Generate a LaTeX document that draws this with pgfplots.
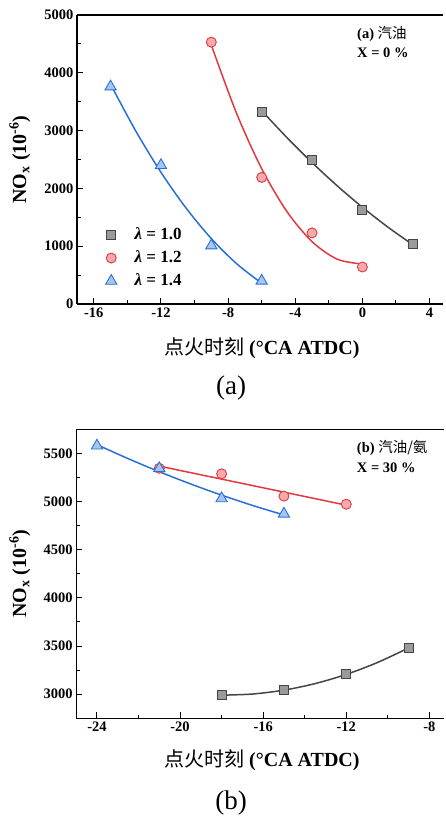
\documentclass[border=0pt]{standalone}
\usepackage{pgfplots}
\pgfplotsset{compat=1.18}
\usepackage{fontspec}
\setmainfont{Liberation Serif}
\newfontfamily\cjk{Noto Sans CJK SC}
\definecolor{grayedge}{HTML}{454545}
\definecolor{grayfill}{HTML}{9A9A9A}
\definecolor{redline}{HTML}{E0393F}
\definecolor{redfill}{HTML}{F5AAAE}
\definecolor{blueline}{HTML}{2A6FD6}
\definecolor{bluefill}{HTML}{A6C6F0}
\pgfplotsset{
 myax/.style={
  scale only axis, anchor=south west,
  axis x line*=box, axis y line*=left,
  xtick pos=lower, ytick pos=lower,
  tick align=inside,
  major tick length=6pt, minor tick length=3.5pt,
  minor x tick num=1, minor y tick num=1,
  every tick/.style={line width=1pt, black},
  axis line style={line width=1.2pt, black},
  tick label style={font=\fontsize{14.5}{16}\selectfont\bfseries},
  /pgf/number format/assume math mode=true,
  /pgf/number format/set thousands separator={},
  scaled ticks=false,
  label style={font=\fontsize{20}{22}\selectfont\bfseries},
  ylabel={NO\textsubscript{x} (10\textsuperscript{-6})},
  xlabel={{\cjk\mdseries 点火时刻} (°CA ATDC)},
  clip=false,
 },
 gfit/.style={no marks, smooth, line width=1.5pt, color=grayedge, forget plot},
 rfit/.style={no marks, smooth, line width=1.5pt, color=redline, forget plot},
 bfit/.style={no marks, smooth, line width=1.5pt, color=blueline, forget plot},
 gmark/.style={only marks, mark=square*, mark size=4.5pt, mark options={fill=grayfill, draw=grayedge, line width=0.9pt}},
 rmark/.style={only marks, mark=*, mark size=5pt, mark options={fill=redfill, draw=redline, line width=0.9pt}},
 bmark/.style={only marks, mark=triangle*, mark size=6.5pt, mark options={fill=bluefill, draw=blueline, line width=0.9pt}},
}
\begin{document}
\begin{tikzpicture}
\path[use as bounding box] (0pt,0pt) rectangle (445pt,818pt);
% ---------------- (a)
\begin{axis}[myax,
  at={(77pt,514pt)}, width=366pt, height=289pt,
  xmin=-17, xmax=4.8, ymin=0, ymax=5000,
  xtick={-16,-12,-8,-4,0,4}, ytick={0,1000,2000,3000,4000,5000},
  xlabel style={at={(axis description cs:0.505,-0.152)}, anchor=center},
  ylabel style={at={(axis description cs:-0.156,0.5)}, anchor=center},
  legend style={draw=none, fill=none, inner sep=0pt, at={(axis description cs:0.0697,0.159)}, anchor=west,
    font=\fontsize{17}{19}\selectfont\bfseries, row sep=3pt,
    nodes={inner sep=2pt, text height=12pt, text depth=4pt}},
  legend cell align=left,
  legend image code/.code={\draw[mark repeat=2,mark phase=2] plot coordinates {(0cm,0cm) (0.3cm,0cm) (0.6cm,0cm)}; \path[draw=none,fill=none] (0cm,0cm) -- (1.05cm,0cm);},
]
\addplot[gfit] coordinates {(-6,3344.5) (-4.5,2879.9) (-3,2446.5) (-1.5,2044.4) (0,1673.5) (1.5,1333.9) (3,1025.5)};
\addplot[rfit] coordinates {(-9,4479.5) (-7.5,3301.1) (-6,2341.5) (-4.5,1600.6) (-3,1078.5) (-1.5,775.1) (0,690.5)};
\addplot[bfit] coordinates {(-15,3800.5) (-13.5,2992.6) (-12,2278.5) (-10.5,1658.1) (-9,1131.5) (-7.5,698.6) (-6,359.5)};
\addplot[gmark] coordinates {(-6,3330) (-3,2490) (0,1630) (3,1040)};
\addplot[rmark] coordinates {(-9,4530) (-6,2190) (-3,1230) (0,640)};
\addplot[bmark] coordinates {(-15,3760) (-12,2400) (-9,1010) (-6,400)};
\legend{{\itshape λ} = 1.0, {\itshape λ} = 1.2, {\itshape λ} = 1.4}
\node[anchor=west, font=\fontsize{14.5}{16}\selectfont\bfseries, inner sep=0pt] at (axis description cs:0.765,0.934) {(a) {\cjk\mdseries 汽油}};
\node[anchor=west, font=\fontsize{14.5}{16}\selectfont\bfseries, inner sep=0pt] at (axis description cs:0.765,0.869) {X = 0 \%};
\end{axis}
\node[font=\fontsize{27}{30}\selectfont] at (231pt,430pt) {(a)};
% ---------------- (b)
\begin{axis}[myax,
  at={(76.2pt,99.7pt)}, width=367.7pt, height=289pt,
  xmin=-25, xmax=-7.3, ymin=2750, ymax=5750,
  xtick={-24,-20,-16,-12,-8}, ytick={3000,3500,4000,4500,5000,5500},
  xlabel style={at={(axis description cs:0.505,-0.145)}, anchor=center},
  ylabel style={at={(axis description cs:-0.153,0.5)}, anchor=center},
]
\addplot[gfit] coordinates {(-18,2989.9) (-16.5,3002.2) (-15,3042.3) (-13.5,3110.1) (-12,3205.7) (-10.5,3329) (-9,3480.1)};
\addplot[rfit] coordinates {(-21,5367.9) (-12,4962.6)};
\addplot[bfit] coordinates {(-24,5590.4) (-22.5,5445.4) (-21,5309.6) (-19.5,5183.3) (-18,5066.3) (-16.5,4958.8) (-15,4860.5)};
\addplot[gmark] coordinates {(-18,2990) (-15,3042) (-12,3206) (-9,3480)};
\addplot[rmark] coordinates {(-21,5345) (-18,5288) (-15,5056) (-12,4972)};
\addplot[bmark] coordinates {(-24,5579) (-21,5344) (-18,5032) (-15,4872)};
\node[anchor=west, font=\fontsize{14.5}{16}\selectfont\bfseries, inner sep=0pt] at (axis description cs:0.763,0.935) {(b) {\cjk\mdseries 汽油/氨}};
\node[anchor=west, font=\fontsize{14.5}{16}\selectfont\bfseries, inner sep=0pt] at (axis description cs:0.763,0.866) {X = 30 \%};
\end{axis}
\node[font=\fontsize{27}{30}\selectfont] at (231pt,15pt) {(b)};
\end{tikzpicture}
\end{document}
